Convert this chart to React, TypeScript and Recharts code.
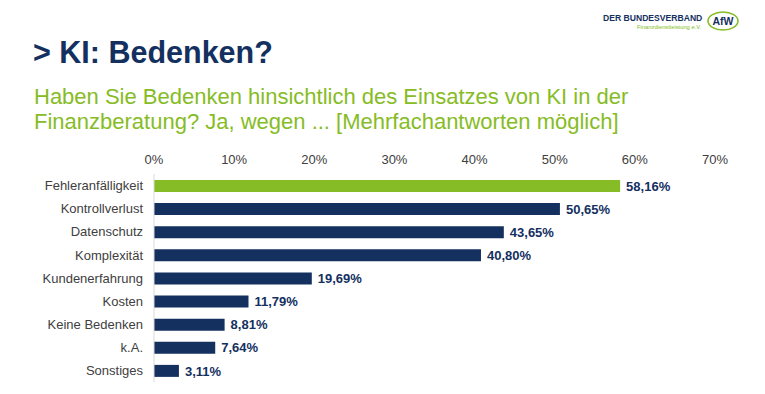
import { BarChart, Bar, XAxis, YAxis, Cell, LabelList } from 'recharts'

const categories = ['Fehleranfälligkeit', 'Kontrollverlust', 'Datenschutz', 'Komplexität', 'Kundenerfahrung', 'Kosten', 'Keine Bedenken', 'k.A.', 'Sonstiges']
const shares = [0.5816, 0.5065, 0.4365, 0.408, 0.1969, 0.1179, 0.0881, 0.0764, 0.0311]
const xTicks = [0, 0.1, 0.2, 0.3, 0.4, 0.5, 0.6, 0.7]

const NAVY = '#14305f'
const GREEN = '#86bc25'
const FONT = '"Liberation Sans", Arial, sans-serif'

const data = categories.map((name, i) => ({ name, value: shares[i] }))
const pct = (v: number) => `${(v * 100).toFixed(2).replace('.', ',')}%`

export default function App() {
  return (
    <div style={{ position: 'fixed', left: 0, top: 0, width: 765, height: 394, background: '#fff', fontFamily: FONT, overflow: 'hidden' }}>
      {/* logo */}
      <div style={{ position: 'absolute', left: 603, top: 13, fontSize: 8.6, fontWeight: 700, color: NAVY, whiteSpace: 'nowrap' }}>DER BUNDESVERBAND</div>
      <div style={{ position: 'absolute', left: 637, top: 24, fontSize: 5.8, color: GREEN, whiteSpace: 'nowrap' }}>Finanzdienstleistung e.V.</div>
      <svg style={{ position: 'absolute', left: 706, top: 10 }} width={34} height={22}>
        <ellipse cx={17} cy={11} rx={15} ry={9} fill="none" stroke={GREEN} strokeWidth={1.6} />
        <text x={17} y={15} textAnchor="middle" fontSize={10.5} fontWeight={700} fill={NAVY} fontFamily={FONT}>AfW</text>
      </svg>

      <div style={{ position: 'absolute', left: 33, top: 35, fontSize: 30.5, fontWeight: 700, color: NAVY, whiteSpace: 'nowrap' }}>&gt; KI: Bedenken?</div>
      <div style={{ position: 'absolute', left: 34, top: 84, fontSize: 22, lineHeight: '25px', color: GREEN, whiteSpace: 'nowrap' }}>
        Haben Sie Bedenken hinsichtlich des Einsatzes von KI in der<br />Finanzberatung? Ja, wegen ... [Mehrfachantworten möglich]
      </div>

      <div style={{ position: 'absolute', left: 0, top: 0 }}>
        <BarChart width={765} height={394} data={data} layout="vertical" margin={{ top: 154, right: 50, bottom: 12, left: 4 }} barSize={12}>
          <XAxis type="number" orientation="top" domain={[0, 0.7]} ticks={xTicks} height={20}
            tickFormatter={(v: number) => `${Math.round(v * 100)}%`}
            axisLine={false} tickLine={false} tickSize={0} tickMargin={10}
            tick={{ fontSize: 13, fontFamily: FONT, fill: '#404040' }} interval={0} />
          <YAxis type="category" dataKey="name" width={150}
            axisLine={{ stroke: '#d9d9d9' }} tickLine={false} tickSize={0} tickMargin={11}
            tick={{ fontSize: 13, fontFamily: FONT, fill: '#404040' }} interval={0} />
          <Bar dataKey="value" isAnimationActive={false}>
            {data.map((d, i) => <Cell key={d.name} fill={i === 0 ? GREEN : NAVY} />)}
            <LabelList dataKey="value" position="right" offset={6} formatter={(v: any) => pct(Number(v))}
              style={{ fontSize: 13, fontWeight: 700, fill: NAVY, fontFamily: FONT }} />
          </Bar>
        </BarChart>
      </div>
    </div>
  )
}
